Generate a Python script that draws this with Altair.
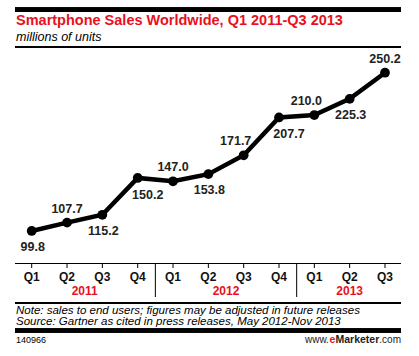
import altair as alt
import pandas as pd

quarters = ["Q1", "Q2", "Q3", "Q4", "Q1", "Q2", "Q3", "Q4", "Q1", "Q2", "Q3"]
years = ["2011", "2011", "2011", "2011", "2012", "2012", "2012", "2012", "2013", "2013", "2013"]
sales = [99.8, 107.7, 115.2, 150.2, 147.0, 153.8, 171.7, 207.7, 210.0, 225.3, 250.2]
label_side = ["below", "above", "below", "below-right", "above", "below",
              "above-left", "below-right", "above-left", "below", "above"]

year_names = ["2011", "2012", "2013"]

FONT = "Liberation Sans"
RED = "#e8101c"

df = pd.DataFrame({
    "idx": list(range(len(sales))),
    "quarter": quarters,
    "year": years,
    "sales": sales,
    "side": label_side,
})
df["label"] = df["sales"].map(lambda v: f"{v:.1f}")

# year centres and separators derived from the quarter positions
yr = df.groupby("year", as_index=False)["idx"].mean().rename(columns={"idx": "center"})
seps = pd.DataFrame({"sep": [df[df.year == y].idx.min() - 0.5 for y in year_names[1:]]})

xs = alt.Scale(domain=[0, 10], range=[31.7, 385])
ys = alt.Scale(domain=[0, 300], range=[336, 20.3])

base = alt.Chart(df)

line = base.mark_line(color="black", strokeWidth=4.5).encode(
    x=alt.X("idx:Q", scale=xs, axis=None),
    y=alt.Y("sales:Q", scale=ys, axis=None),
)
pts = base.mark_circle(color="black", size=95, opacity=1).encode(
    x=alt.X("idx:Q", scale=xs, axis=None),
    y=alt.Y("sales:Q", scale=ys, axis=None),
)

offsets = {"below": (1, 16), "above": (0, -14), "below-right": (10, 17), "above-left": (-8, -14)}
label_layers = []
for side, (dx, dy) in offsets.items():
    label_layers.append(
        base.transform_filter(alt.datum.side == side)
        .mark_text(font=FONT, fontSize=12.5, fontWeight="bold", color="#222222",
                   dx=dx, dy=dy, baseline="middle", align="center")
        .encode(
            x=alt.X("idx:Q", scale=xs, axis=None),
            y=alt.Y("sales:Q", scale=ys, axis=None),
            text="label:N",
        )
    )

qlabels = base.mark_text(font=FONT, fontSize=12, fontWeight="bold", color="#111111",
                         baseline="middle").encode(
    x=alt.X("idx:Q", scale=xs, axis=None),
    y=alt.value(277),
    text="quarter:N",
)
ticks = base.mark_rule(color="black", strokeWidth=1).encode(
    x=alt.X("idx:Q", scale=xs, axis=None),
    y=alt.value(263),
    y2=alt.value(268),
)
ylabels = alt.Chart(yr).mark_text(font=FONT, fontSize=12, fontWeight="bold", color=RED,
                                  baseline="middle").encode(
    x=alt.X("center:Q", scale=xs, axis=None),
    y=alt.value(291),
    text="year:N",
)
seprules = alt.Chart(seps).mark_rule(color="black", strokeWidth=1).encode(
    x=alt.X("sep:Q", scale=xs, axis=None),
    y=alt.value(263),
    y2=alt.value(297),
)


def hrule(y, w):
    return alt.Chart(df).mark_rule(color="black", strokeWidth=w).encode(
        x=alt.value(15), x2=alt.value(401), y=alt.value(y)
    )


def txt(s, x, y, size, weight="normal", style="normal", color="black", align="left"):
    return alt.Chart(pd.DataFrame({"t": [s]})).mark_text(
        font=FONT, fontSize=size, fontWeight=weight, fontStyle=style, color=color,
        align=align, baseline="middle",
    ).encode(x=alt.value(x), y=alt.value(y), text="t:N")


deco = [
    hrule(9.8, 4),
    hrule(46.8, 1.2),
    hrule(263.5, 1.2),
    hrule(302.8, 1.5),
    hrule(330.5, 3.5),
    txt("Smartphone Sales Worldwide, Q1 2011-Q3 2013", 16, 20.5, 14.5, weight="bold", color=RED),
    txt("millions of units", 16, 37, 12.5, style="italic"),
    txt("Note: sales to end users; figures may be adjusted in future releases", 16, 311, 11.5, style="italic"),
    txt("Source: Gartner as cited in press releases, May 2012-Nov 2013", 16, 322, 11.5, style="italic"),
    txt("140966", 16, 340, 9),
    txt("www.", 305, 340, 10, color="#222222"),
    txt("e", 329.5, 340, 10.5, weight="bold", color=RED),
    txt("Marketer", 335.5, 340, 10.5, weight="bold", color="#222222"),
    txt(".com", 401, 340, 10, align="right", color="#222222"),
]

chart = alt.layer(
    *deco, ticks, seprules, qlabels, ylabels, line, pts, *label_layers
).properties(
    width=419, height=356, autosize=alt.AutoSizeParams(type="none"), padding=0,
    background="white",
).configure_view(stroke=None)

chart.save("out.html", embed_options={"renderer": "svg", "actions": False})
